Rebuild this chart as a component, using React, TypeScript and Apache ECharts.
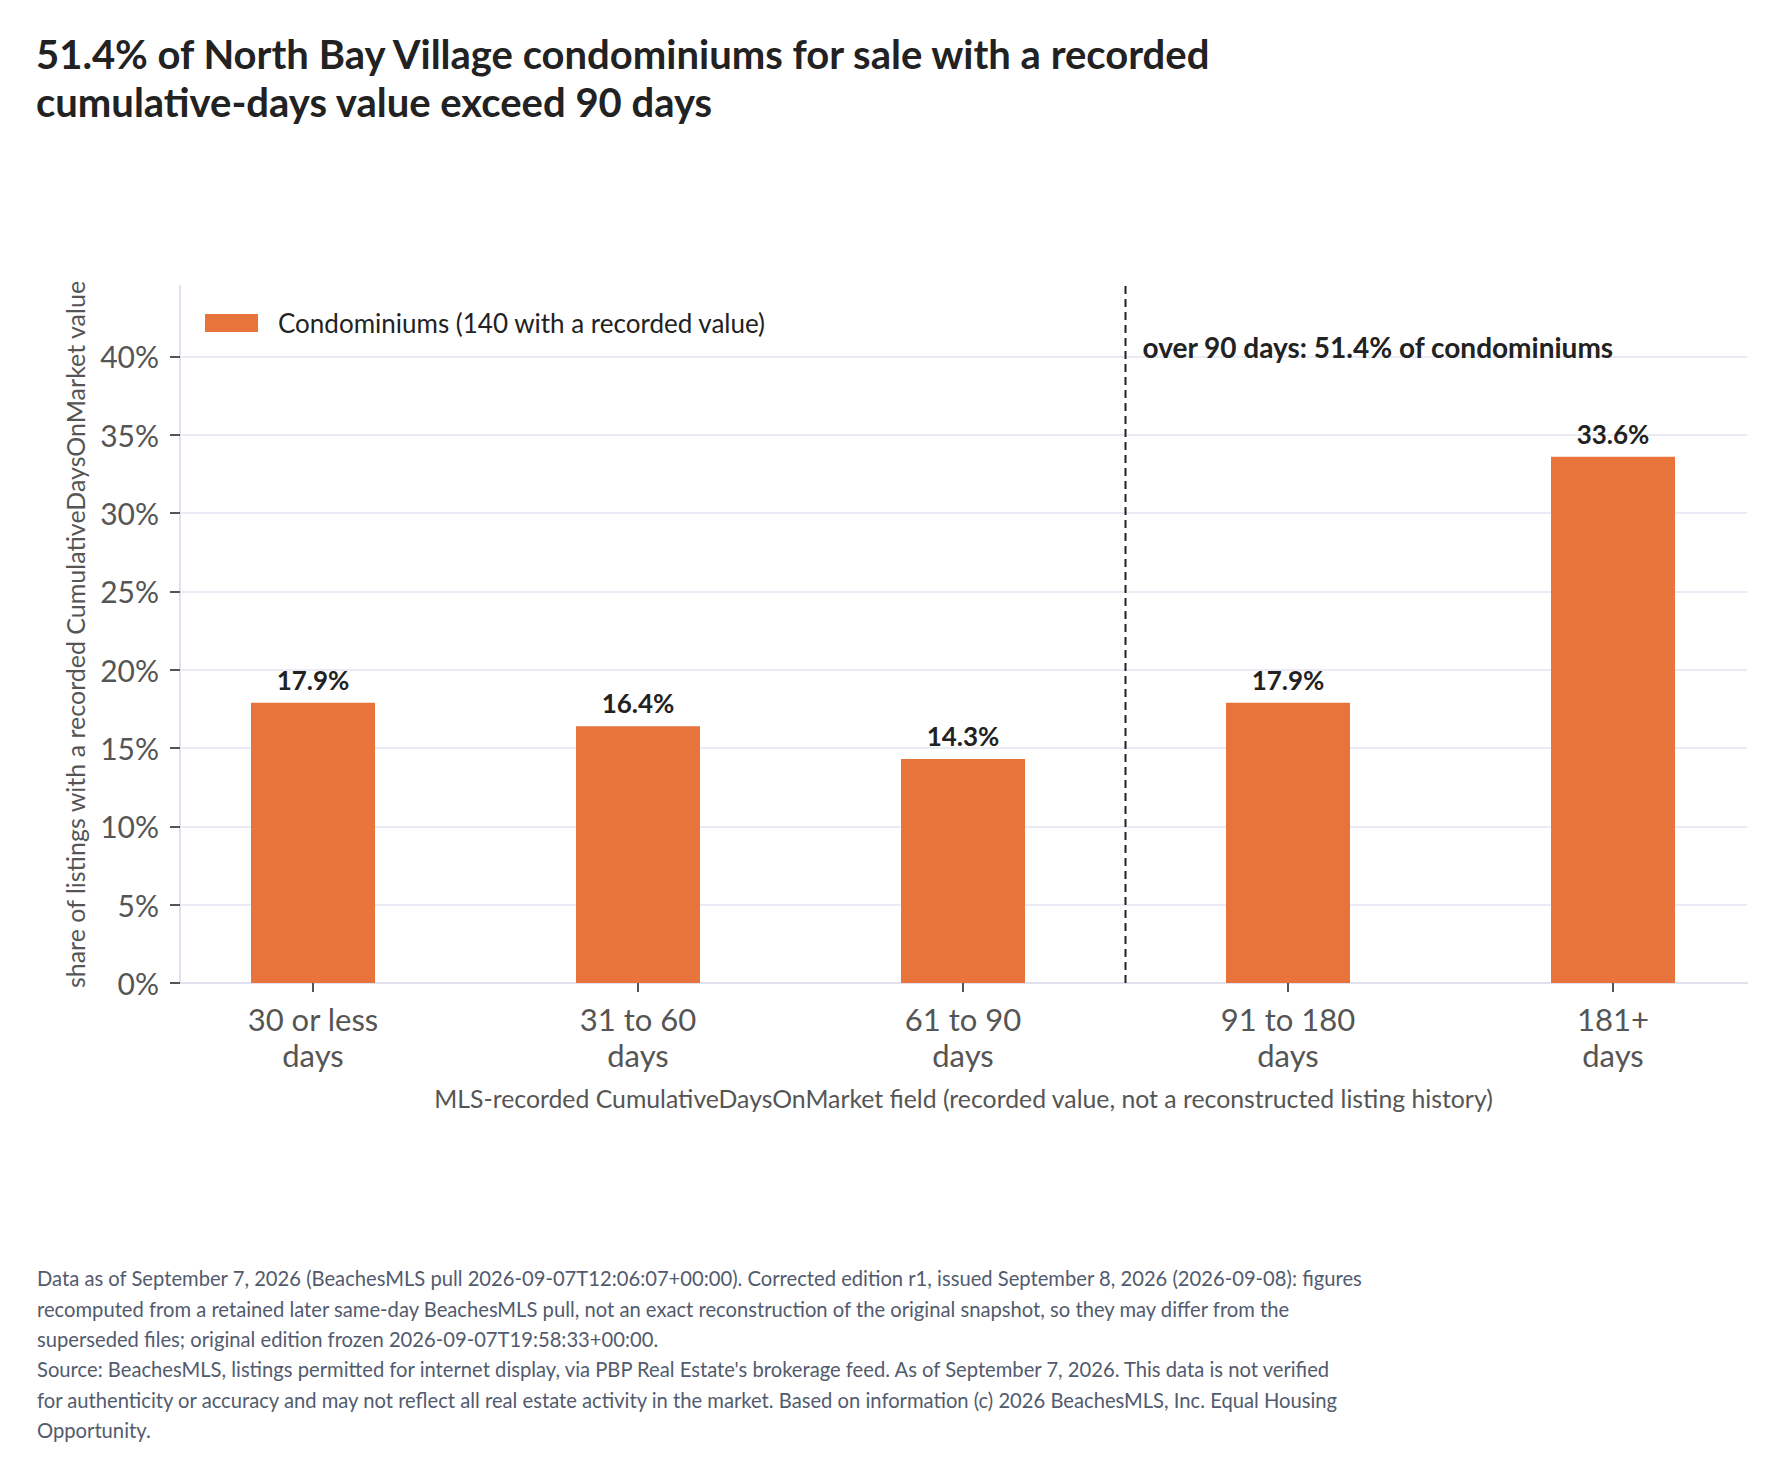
import React, { useEffect, useRef } from 'react';
import * as echarts from 'echarts';

const categories = ['30 or less days', '31 to 60 days', '61 to 90 days', '91 to 180 days', '181+ days'];
const shares = [17.9, 16.4, 14.3, 17.9, 33.6];
const yTicks = [0, 5, 10, 15, 20, 25, 30, 35, 40];
const yMax = 44.5;
const seriesName = 'Condominiums (140 with a recorded value)';
const titleLines = [
  '51.4% of North Bay Village condominiums for sale with a recorded',
  'cumulative-days value exceed 90 days',
];
const yAxisName = 'share of listings with a recorded CumulativeDaysOnMarket value';
const xAxisName = 'MLS-recorded CumulativeDaysOnMarket field (recorded value, not a reconstructed listing history)';
const annotation = 'over 90 days: 51.4% of condominiums';
const splitAfterIndex = 2;
const footerLines = [
  'Data as of September 7, 2026 (BeachesMLS pull 2026-09-07T12:06:07+00:00). Corrected edition r1, issued September 8, 2026 (2026-09-08): figures',
  'recomputed from a retained later same-day BeachesMLS pull, not an exact reconstruction of the original snapshot, so they may differ from the',
  'superseded files; original edition frozen 2026-09-07T19:58:33+00:00.',
  "Source: BeachesMLS, listings permitted for internet display, via PBP Real Estate's brokerage feed. As of September 7, 2026. This data is not verified",
  'for authenticity or accuracy and may not reflect all real estate activity in the market. Based on information (c) 2026 BeachesMLS, Inc. Equal Housing',
  'Opportunity.',
];

const FONT = 'Lato, "Noto Sans", sans-serif';
const BAR = '#E8743B';
const INK = '#222222';
const MUTED = '#555555';
const GRID = '#e3e5f0';

export default function App() {
  const ref = useRef<HTMLDivElement>(null);
  useEffect(() => {
    if (!ref.current) return;
    const chart = echarts.init(ref.current, undefined, { renderer: 'svg' });
    const gridTop = 286;
    const gridBottom = 494;
    chart.setOption({
      animation: false,
      backgroundColor: '#ffffff',
      textStyle: { fontFamily: FONT },
      title: {
        text: titleLines.join('\n'),
        left: 36,
        top: 30,
        padding: 0,
        textStyle: { fontFamily: FONT, fontSize: 40, fontWeight: 'bold', lineHeight: 48, color: INK },
      },
      legend: {
        data: [seriesName],
        left: 205,
        top: 310,
        padding: 0,
        icon: 'rect',
        itemWidth: 53,
        itemHeight: 18,
        textStyle: { fontFamily: FONT, fontSize: 26, lineHeight: 26, color: INK, padding: [0, 0, 0, 15] },
      },
      grid: [
        { left: 180, right: 35, top: gridTop, bottom: gridBottom },
        { left: 150.5, right: 6.5, top: gridTop, bottom: gridBottom },
      ],
      xAxis: [
        {
          gridIndex: 0,
          type: 'value',
          min: 0,
          max: 1,
          axisLine: { show: true, onZero: false, lineStyle: { color: '#dfe2ee', width: 2 } },
          axisTick: { show: false },
          axisLabel: { show: false },
          splitLine: { show: false },
          name: xAxisName,
          nameLocation: 'middle',
          nameGap: 103,
          nameTextStyle: { fontFamily: FONT, fontSize: 24.8, color: MUTED },
        },
        {
          gridIndex: 1,
          type: 'category',
          data: categories,
          axisLine: { show: false },
          axisTick: { show: true, alignWithLabel: true, length: 9, lineStyle: { color: MUTED, width: 2 } },
          axisLabel: {
            fontFamily: FONT,
            fontSize: 31,
            lineHeight: 36,
            color: MUTED,
            margin: 18,
            interval: 0,
            formatter: (v: string) => v.replace(/ days$/, '\ndays'),
          },
          splitLine: { show: false },
        },
      ],
      yAxis: [
        {
          gridIndex: 0,
          type: 'value',
          min: 0,
          max: yMax,
          interval: 5,
          axisLine: { show: true, lineStyle: { color: '#dfe2ee', width: 2 } },
          axisTick: { show: true, length: 10, lineStyle: { color: MUTED, width: 2 }, customValues: yTicks },
          axisLabel: {
            fontFamily: FONT,
            fontSize: 30,
            color: MUTED,
            margin: 21,
            customValues: yTicks,
            formatter: (v: number) => `${v}%`,
          },
          splitLine: { show: true, lineStyle: { color: GRID, width: 1.5 } },
          name: yAxisName,
          nameLocation: 'middle',
          nameRotate: 90,
          nameGap: 92.5,
          nameTextStyle: { fontFamily: FONT, fontSize: 25, color: MUTED },
        },
        {
          gridIndex: 1,
          type: 'value',
          min: 0,
          max: yMax,
          show: false,
        },
      ],
      series: [
        {
          name: seriesName,
          type: 'bar',
          xAxisIndex: 1,
          yAxisIndex: 1,
          data: shares,
          barWidth: 124,
          itemStyle: { color: BAR },
          label: {
            show: true,
            position: 'top',
            distance: 10,
            formatter: (p: any) => `${p.value.toFixed(1)}%`,
            fontFamily: FONT,
            fontSize: 26,
            fontWeight: 'bold',
            color: INK,
          },
        },
      ],
      graphic: [
        {
          id: 'footer',
          type: 'text',
          left: 37,
          top: 1263,
          style: {
            text: footerLines.join('\n'),
            fontFamily: FONT,
            fontSize: 20.2,
            lineHeight: 30.4,
            fill: '#525b6e',
          },
        },
      ],
    });

    const xa = chart.convertToPixel({ xAxisIndex: 1 }, categories[splitAfterIndex]) as number;
    const xb = chart.convertToPixel({ xAxisIndex: 1 }, categories[splitAfterIndex + 1]) as number;
    const mid = (xa + xb) / 2;
    const yTopPx = chart.convertToPixel({ yAxisIndex: 0 }, yMax) as number;
    const yBotPx = chart.convertToPixel({ yAxisIndex: 0 }, 0) as number;
    const y40 = chart.convertToPixel({ yAxisIndex: 0 }, 40) as number;
    chart.setOption({
      graphic: [
        {
          id: 'footer',
        },
        {
          id: 'divider',
          type: 'line',
          z: 5,
          shape: { x1: mid, y1: yTopPx, x2: mid, y2: yBotPx },
          style: { stroke: '#222', lineWidth: 2, lineDash: [8, 5] },
        },
        {
          id: 'annot',
          type: 'text',
          z: 5,
          x: mid + 17,
          y: y40 - 9,
          style: {
            text: annotation,
            fontFamily: FONT,
            fontSize: 28,
            fontWeight: 'bold',
            fill: INK,
            verticalAlign: 'middle',
            align: 'left',
          },
        },
      ],
    });

    return () => chart.dispose();
  }, []);
  return (
    <div
      ref={ref}
      style={{ position: 'absolute', left: 0, top: 0, width: 1782, height: 1477, background: '#fff' }}
    />
  );
}
